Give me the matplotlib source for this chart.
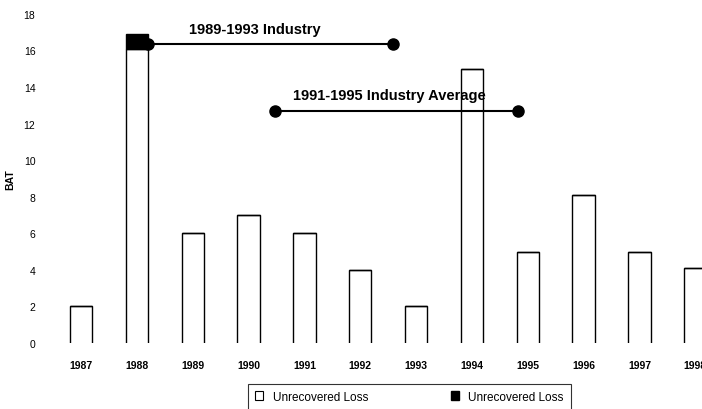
import matplotlib.pyplot as plt
from matplotlib.patches import Patch

years = ['1987', '1988', '1989', '1990', '1991', '1992', '1993',
         '1994', '1995', '1996', '1997', '1998']
loss_open = [2, 16.1, 6, 7, 6, 4, 2, 15, 5, 8.1, 5, 4.1]
loss_solid = [0, 0.8, 0, 0, 0, 0, 0, 0, 0, 0, 0, 0]

avg_labels = ['1989-1993 Industry', '1991-1995 Industry Average']
avg_values = [16.35, 12.7]
avg_start = [1.2, 3.47]
avg_end = [5.59, 7.82]
label_x = [3.11, 5.53]

plt.rcParams['font.family'] = ['Liberation Sans', 'DejaVu Sans']

fig = plt.figure(figsize=(7.02, 4.10), dpi=100)
ax = fig.add_axes([52 / 702, 0.161, 1 - 52 / 702, 0.803])

x = list(range(len(years)))
width = 0.4
for xi, h in zip(x, loss_open):
    # bars are drawn open at the bottom, as in the scan
    left, right = xi - width / 2, xi + width / 2
    ax.plot([left, left, right, right], [0, h, h, 0], color='black', lw=1.0,
            solid_joinstyle='miter')
ax.bar(x, loss_solid, width=width, bottom=loss_open, color='black',
       edgecolor='black')

for label, val, x0, x1, lx in zip(avg_labels, avg_values, avg_start, avg_end, label_x):
    ax.plot([x0, x1], [val, val], color='black', lw=1.5, marker='o',
            markersize=8, markevery=[0, 1])
    ax.text(lx, val + 0.45, label, ha='center', va='bottom',
            fontsize=10.5, fontweight='bold')

ax.set_xlim(-0.52, 11.12)
ax.set_ylim(0, 18)
ax.set_yticks(range(0, 19, 2))
ax.set_xticks(x)
ax.set_xticklabels(years, fontsize=7.5, fontweight='bold')
ax.tick_params(axis='y', labelsize=7.5, length=0, pad=12)
ax.tick_params(axis='x', length=0, pad=12)
for s in ax.spines.values():
    s.set_visible(False)
ax.set_ylabel('BAT', fontsize=7.5, fontweight='bold', labelpad=6)

handles = [Patch(facecolor='white', edgecolor='black', lw=0.8),
           Patch(facecolor='black', edgecolor='black')]
leg = fig.legend(handles, ['Unrecovered Loss', 'Unrecovered Loss'], ncol=2,
                 loc='upper center', bbox_to_anchor=(0.583, 0.062),
                 fontsize=8.5, frameon=True, fancybox=False, edgecolor='black',
                 handlelength=0.7, handleheight=0.7, columnspacing=7,
                 borderpad=0.6, borderaxespad=0)
leg.get_frame().set_linewidth(0.8)

fig.savefig('out.png', dpi=100)
